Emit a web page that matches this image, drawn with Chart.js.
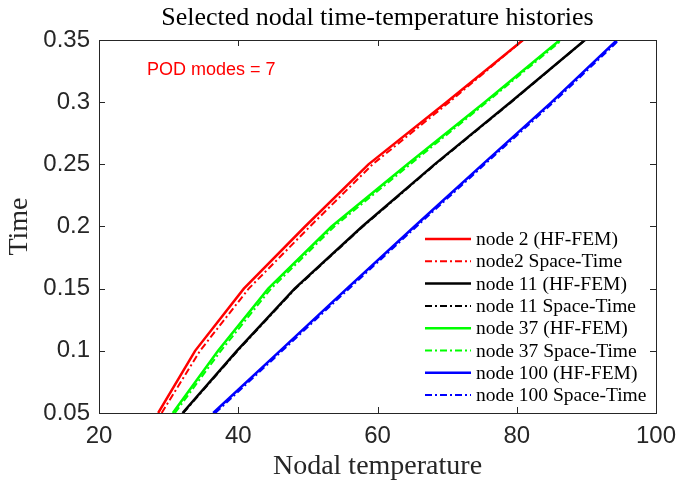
<!DOCTYPE html>
<html>
<head>
<meta charset="utf-8">
<script src="https://cdn.jsdelivr.net/npm/chart.js@4/dist/chart.umd.min.js"></script>
<style>
  html, body { margin: 0; padding: 0; background: #fff; }
  #wrap { width: 676px; height: 489px; }
</style>
</head>
<body>
<div id="wrap"><canvas id="historyChart" width="676" height="489"></canvas></div>
<script>
'use strict'

// time steps (y) and nodal temperatures (x)
const timeSteps = [0.05, 0.1, 0.15, 0.2, 0.25, 0.3, 0.35]
const node2Fem = [28.5, 33.8, 40.8, 49.6, 58.7, 69.9, 80.9]
const node2St = [29.0, 34.5, 41.5, 50.3, 59.3, 70.3, 80.9]
const node11Fem = [32.0, 39.8, 48.1, 57.8, 68.2, 79.1, 89.8]
const node11St = [32.1, 39.9, 48.2, 57.9, 68.3, 79.2, 89.8]
const node37Fem = [30.6, 37.1, 44.3, 53.4, 64.3, 75.4, 86.2]
const node37St = [30.9, 37.5, 44.7, 53.8, 64.7, 75.7, 86.5]
const node100Fem = [36.4, 46.0, 55.6, 65.3, 75.1, 85.0, 94.4]
const node100St = [36.7, 46.3, 55.9, 65.6, 75.4, 85.3, 94.7]

const xTicks = [20, 40, 60, 80, 100]
const yTicks = [0.05, 0.1, 0.15, 0.2, 0.25, 0.3, 0.35]
const yTickLabels = ['0.05', '0.1', '0.15', '0.2', '0.25', '0.3', '0.35']

const AXIS = '#262626'
const SERIF = '"Liberation Serif", "DejaVu Serif", serif'
const SANS = '"Liberation Sans", Arial, sans-serif'
const DASHDOT = [7, 3, 2, 3]

function pts(temps) {
  return temps.map((t, i) => ({ x: t, y: timeSteps[i] }))
}

let nSeries = 0
function series(label, temps, color, dashed) {
  nSeries++
  return {
    label: label,
    data: pts(temps),
    borderColor: color,
    backgroundColor: color,
    borderWidth: dashed ? 2 : 2.5,
    borderDash: dashed ? DASHDOT : [],
    showLine: true,
    pointRadius: 0,
    tension: 0,
    order: 20 - nSeries // later series on top, like matlab
  }
}

// title, inward ticks, top/right box, legend and annotation
const matlabAxes = {
  id: 'matlabAxes',
  afterDraw(chart) {
    const ctx = chart.ctx
    const a = chart.chartArea
    const xs = chart.scales.x
    const ys = chart.scales.y
    const len = 6
    ctx.save()

    ctx.fillStyle = '#000'
    ctx.font = '26px ' + SERIF
    ctx.textAlign = 'center'
    ctx.textBaseline = 'alphabetic'
    ctx.fillText('Selected nodal time-temperature histories', (a.left + a.right) / 2, 25)

    ctx.strokeStyle = AXIS
    ctx.lineWidth = 1
    ctx.beginPath()
    ctx.moveTo(a.left, a.top + 0.5)
    ctx.lineTo(a.right + 0.5, a.top + 0.5)
    ctx.lineTo(a.right + 0.5, a.bottom)
    xTicks.forEach(v => {
      const px = Math.round(xs.getPixelForValue(v)) + 0.5
      ctx.moveTo(px, a.bottom); ctx.lineTo(px, a.bottom - len)
      ctx.moveTo(px, a.top); ctx.lineTo(px, a.top + len)
    })
    yTicks.forEach(v => {
      const py = Math.round(ys.getPixelForValue(v)) + 0.5
      ctx.moveTo(a.left, py); ctx.lineTo(a.left + len, py)
      ctx.moveTo(a.right, py); ctx.lineTo(a.right - len, py)
    })
    ctx.stroke()

    // annotation
    ctx.fillStyle = '#ff0000'
    ctx.font = '18px ' + SANS
    ctx.textAlign = 'left'
    ctx.fillText('POD modes = 7', 147, 75)

    // legend
    const x0 = 425, x1 = 471, tx = 476, top = 239, step = 22.3
    ctx.font = '19.5px ' + SERIF
    ctx.textBaseline = 'middle'
    chart.data.datasets.forEach((ds, i) => {
      const y = top + i * step
      ctx.strokeStyle = ds.borderColor
      ctx.lineWidth = ds.borderWidth
      ctx.setLineDash(ds.borderDash)
      ctx.beginPath()
      ctx.moveTo(x0, y); ctx.lineTo(x1, y)
      ctx.stroke()
      ctx.setLineDash([])
      ctx.fillStyle = '#000'
      ctx.fillText(ds.label, tx, y + 1)
    })
    ctx.restore()
  }
}

const ctx = document.getElementById('historyChart').getContext('2d')
const historyChart = new Chart(ctx, {
  type: 'scatter',
  data: {
    datasets: [
      series('node 2 (HF-FEM)', node2Fem, '#ff0000', false),
      series('node2 Space-Time', node2St, '#ff0000', true),
      series('node 11 (HF-FEM)', node11Fem, '#000000', false),
      series('node 11 Space-Time', node11St, '#000000', true),
      series('node 37 (HF-FEM)', node37Fem, '#00ff00', false),
      series('node 37 Space-Time', node37St, '#00ff00', true),
      series('node 100 (HF-FEM)', node100Fem, '#0000ff', false),
      series('node 100 Space-Time', node100St, '#0000ff', true)
    ]
  },
  options: {
    responsive: false,
    animation: false,
    clip: true,
    layout: { padding: { left: 0, right: 20, top: 40, bottom: 0 } },
    plugins: {
      legend: { display: false },
      tooltip: { enabled: false },
      title: { display: false }
    },
    scales: {
      x: {
        type: 'linear',
        min: 20,
        max: 100,
        afterBuildTicks: s => { s.ticks = xTicks.map(v => ({ value: v })) },
        afterFit: s => {
          s.height = 76
          s.paddingRight = 0
          s.paddingLeft = 0
        },
        grid: { display: false, drawTicks: false },
        border: { display: true, color: AXIS, width: 1 },
        ticks: { color: AXIS, font: { family: SANS, size: 24 }, padding: 9, maxRotation: 0 },
        title: {
          display: true,
          text: 'Nodal temperature',
          color: AXIS,
          font: { family: SERIF, size: 28, lineHeight: 1.2 },
          padding: { top: 0, bottom: 6 }
        }
      },
      y: {
        type: 'linear',
        min: 0.05,
        max: 0.35,
        afterBuildTicks: s => { s.ticks = yTicks.map(v => ({ value: v })) },
        afterFit: s => { s.width = 99 },
        grid: { display: false, drawTicks: false },
        border: { display: true, color: AXIS, width: 1 },
        ticks: {
          color: AXIS,
          font: { family: SANS, size: 24 },
          padding: 9,
          callback: (v) => yTickLabels[yTicks.indexOf(v)]
        },
        title: {
          display: true,
          text: 'Time',
          color: AXIS,
          font: { family: SERIF, size: 28, lineHeight: 1.2 },
          padding: { top: 3, bottom: 0 }
        }
      }
    }
  },
  plugins: [matlabAxes]
})
</script>
</body>
</html>
